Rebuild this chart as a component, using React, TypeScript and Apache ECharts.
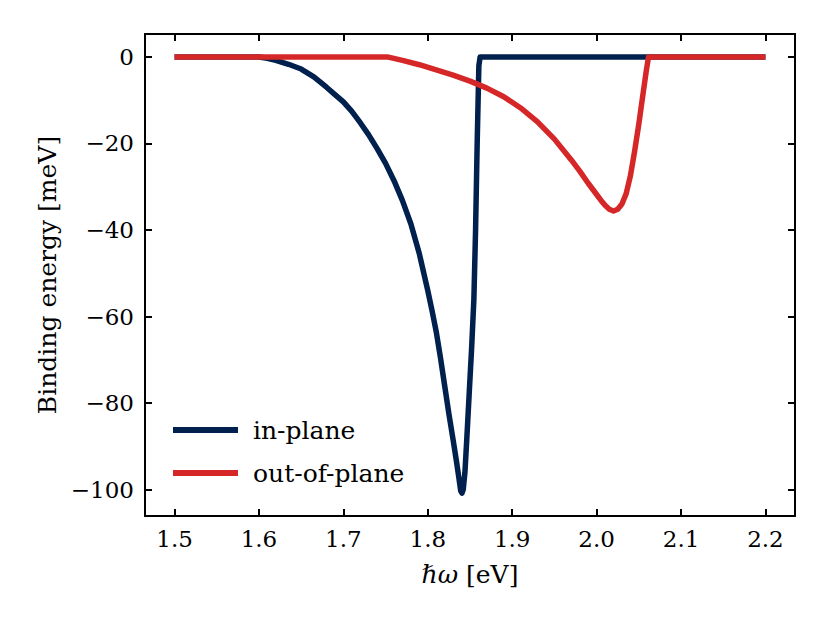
import React, { useEffect, useRef } from "react";
import * as echarts from "echarts";

const inPlaneX = [1.5, 1.6, 1.61, 1.62, 1.635, 1.65, 1.665, 1.68, 1.69, 1.7, 1.71, 1.72, 1.73, 1.74, 1.75, 1.76, 1.77, 1.78, 1.79, 1.8, 1.805, 1.81, 1.815, 1.82, 1.825, 1.83, 1.834, 1.837, 1.839, 1.8405, 1.842, 1.844, 1.846, 1.849, 1.852, 1.8546, 1.8566, 1.8585, 1.8605, 1.862, 2.2];
const inPlaneY = [0, 0, -0.3, -0.8, -1.7, -2.8, -4.6, -7, -8.7, -10.4, -12.6, -15.2, -18, -21.2, -24.6, -28.6, -33.2, -38.6, -45.5, -54, -58.6, -63.5, -69.5, -76, -82.5, -88.5, -93.5, -97.5, -100.3, -100.8, -100, -96, -89, -78, -67, -56, -40, -20, -2, 0, 0];

const outPlaneX = [1.5, 1.752, 1.77, 1.79, 1.81, 1.83, 1.85, 1.87, 1.89, 1.91, 1.93, 1.95, 1.97, 1.98, 1.99, 2.0, 2.005, 2.01, 2.015, 2.02, 2.025, 2.03, 2.035, 2.04, 2.045, 2.05, 2.055, 2.059, 2.0615, 2.2];
const outPlaneY = [0, 0, -0.8, -1.8, -3, -4.2, -5.6, -7.2, -9.2, -11.8, -15, -19, -23.8, -26.4, -29.2, -31.8, -33.1, -34.3, -35.2, -35.6, -35.2, -34, -31.6, -27.5, -21.8, -15.5, -8.5, -3, 0, 0];

const xTicks = [1.5, 1.6, 1.7, 1.8, 1.9, 2.0, 2.1, 2.2];
const yTicks = [-100, -80, -60, -40, -20, 0];

const FONT = "DejaVu Serif";
const FS = 23;
const FN = 25;

export default function App() {
  const ref = useRef<HTMLDivElement>(null);
  useEffect(() => {
    const chart = echarts.init(ref.current!, null, { renderer: "svg" });
    const fmtY = (v: number) => (v < 0 ? "\u2212" + Math.abs(v) : String(v));
    const axisLine = { show: true, onZero: false, lineStyle: { color: "#000", width: 2 } };
    const tick = (vals: number[]) => ({ show: true, inside: true, length: 7, customValues: vals, lineStyle: { color: "#000", width: 2 } });
    chart.setOption({
      animation: false,
      grid: { left: 145, top: 34, right: 35, bottom: 105 },
      legend: {
        orient: "vertical",
        left: 168,
        top: 410,
        icon: "rect",
        itemWidth: 65,
        itemHeight: 6,
        itemGap: 13,
        textStyle: { fontFamily: FONT, fontSize: FN, color: "#000", lineHeight: 30, padding: [0, 0, 0, 10] },
        data: ["in-plane", "out-of-plane"],
      },
      xAxis: [
        {
          type: "value",
          min: 1.465,
          max: 2.235,
          position: "bottom",
          axisLine,
          axisTick: tick(xTicks),
          splitLine: { show: false },
          axisLabel: { customValues: xTicks, margin: 11, fontFamily: FONT, fontSize: FS, color: "#000", formatter: (v: number) => v.toFixed(1) },
          name: "{i|ℏω} [eV]",
          nameLocation: "middle",
          nameGap: 46,
          nameTextStyle: {
            fontFamily: FONT,
            fontSize: FN,
            color: "#000",
            rich: { i: { fontFamily: FONT, fontStyle: "italic", fontSize: FN, color: "#000" } },
          },
        },
        {
          type: "value",
          min: 1.465,
          max: 2.235,
          position: "top",
          axisLine,
          axisTick: tick(xTicks),
          splitLine: { show: false },
          axisLabel: { show: false },
        },
      ],
      yAxis: [
        {
          type: "value",
          min: -106.1,
          max: 5.3,
          position: "left",
          axisLine,
          axisTick: tick(yTicks),
          splitLine: { show: false },
          axisLabel: { customValues: yTicks, margin: 11, fontFamily: FONT, fontSize: FS, color: "#000", formatter: fmtY },
          name: "Binding energy [meV]",
          nameLocation: "middle",
          nameRotate: 90,
          nameGap: 84,
          nameTextStyle: { fontFamily: FONT, fontSize: FN, color: "#000" },
        },
        {
          type: "value",
          min: -106.1,
          max: 5.3,
          position: "right",
          axisLine,
          axisTick: tick(yTicks),
          splitLine: { show: false },
          axisLabel: { show: false },
        },
      ],
      series: [
        {
          name: "in-plane",
          type: "line",
          showSymbol: false,
          symbol: "none",
          smooth: false,
          color: "#00204e",
          lineStyle: { width: 5.5, color: "#00204e", join: "round" },
          data: inPlaneX.map((x, i) => [x, inPlaneY[i]]),
        },
        {
          name: "out-of-plane",
          type: "line",
          showSymbol: false,
          symbol: "none",
          smooth: false,
          color: "#d62728",
          lineStyle: { width: 5.5, color: "#d62728", join: "round" },
          data: outPlaneX.map((x, i) => [x, outPlaneY[i]]),
        },
      ],
    });
    return () => chart.dispose();
  }, []);
  return <div ref={ref} style={{ width: 830, height: 621, position: "absolute", left: 0, top: 0 }} />;
}
